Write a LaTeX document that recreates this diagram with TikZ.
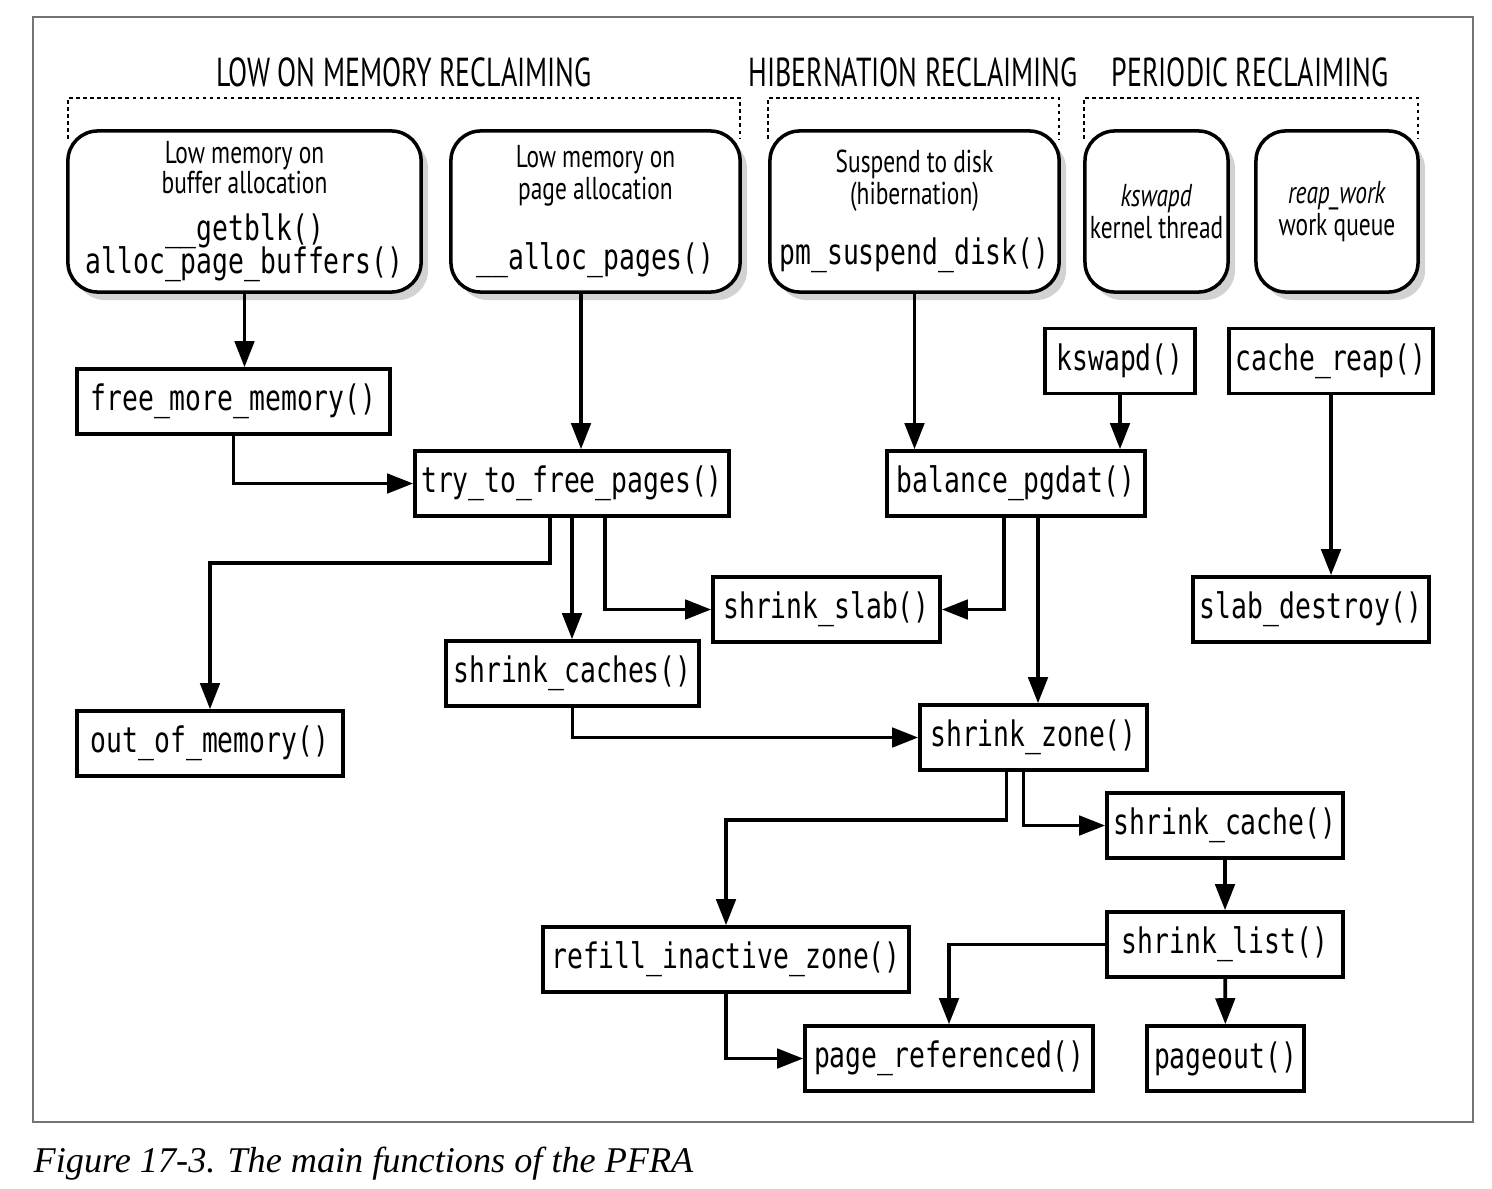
\documentclass[tikz,border=0pt]{standalone}
\usepackage{fontspec}
\newfontfamily\condsans[FakeStretch=0.74]{PT Sans}
\newfontfamily\headfont[FakeStretch=0.69]{PT Sans}
\newfontfamily\codefont[FakeStretch=0.75]{DejaVu Sans Mono}
\newfontfamily\capfont{Liberation Serif}
\usetikzlibrary{arrows.meta,positioning,calc,shadows}
\newcommand{\fn}[1]{{\codefont\fontsize{10}{12}\selectfont #1}}

\begin{document}
\begin{tikzpicture}[x=0.01cm, y=-0.01cm,
  fnbox/.style={draw, line width=1pt, inner sep=0pt, minimum height=0.65cm,
                font=\codefont\fontsize{10}{12}\selectfont},
  srcbox/.style={draw, line width=1pt, rounded corners=8.5pt, fill=white,
                 inner sep=0pt, minimum height=1.61cm, align=center,
                 drop shadow={shadow xshift=0.07cm, shadow yshift=-0.08cm, fill=black!35},
                 font=\condsans\fontsize{9}{9.7}\selectfont},
  arr/.style={-{Triangle[length=7.4pt,width=5.5pt]}, line width=1.05pt},
  grp/.style={line width=0.5pt, dash pattern=on 1pt off 1pt},
  head/.style={anchor=base, font=\headfont\fontsize{11.5}{13}\selectfont}
]
\useasboundingbox (0,0) rectangle (1492,1188);
\draw[black!55, line width=0.6pt] (33,17) rectangle (1473,1122);

%% groups
\node[head] (hlow) at (404,87)  {LOW ON MEMORY RECLAIMING};
\node[head] (hhib) at (913,87)  {HIBERNATION RECLAIMING};
\node[head] (hper) at (1250,87) {PERIODIC RECLAIMING};
\draw[grp] (68,139) |- (740,98) -- (740,139);
\draw[grp] (768,139) |- (1059,98) -- (1059,139);
\draw[grp] (1084,139) |- (1418,98) -- (1418,139);

%% sources
\node[srcbox, minimum width=3.53cm] (buf) at (244.5,211.5)
  {Low memory on\\[-1.1pt]buffer allocation\\[3.6pt]\fn{\_\_getblk()}\\[-1.7pt]\fn{alloc\_page\_buffers()}};
\node[srcbox, minimum width=2.89cm] (pg) at (595.5,211.5)
  {Low memory on\\[-0.6pt]page allocation\\[10.2pt]\fn{\_\_alloc\_pages()}};
\node[srcbox, minimum width=2.89cm] (hib) at (914.5,211.5)
  {Suspend to disk\\[-0.6pt](hibernation)\\[7.4pt]\fn{pm\_suspend\_disk()}};
\node[srcbox, minimum width=1.43cm] (ksw) at (1156.5,211.5)
  {\textit{kswapd}\\[-0.6pt]kernel thread};
\node[srcbox, minimum width=1.62cm] (reap) at (1337,211.5)
  {\textit{reap\_work}\\[-0.6pt]work queue};

%% functions
\node[fnbox, minimum width=3.13cm] (fmm) at (233.5,401.5) {free\_more\_memory()};
\node[fnbox, minimum width=3.14cm] (try) at (572,483.5)   {try\_to\_free\_pages()};
\node[fnbox, minimum width=2.58cm] (bal) at (1016,483.5)  {balance\_pgdat()};
\node[fnbox, minimum width=1.50cm] (ksd) at (1120,361)    {kswapd()};
\node[fnbox, minimum width=2.04cm] (crp) at (1331,361)    {cache\_reap()};
\node[fnbox, minimum width=2.27cm] (ssl) at (826.5,609.5) {shrink\_slab()};
\node[fnbox, minimum width=2.36cm] (sld) at (1311,609.5)  {slab\_destroy()};
\node[fnbox, minimum width=2.53cm] (scs) at (572.5,673.5) {shrink\_caches()};
\node[fnbox, minimum width=2.66cm] (oom) at (210,743.5)   {out\_of\_memory()};
\node[fnbox, minimum width=2.27cm] (szn) at (1033.5,737.5){shrink\_zone()};
\node[fnbox, minimum width=2.36cm] (sce) at (1225,825.5)  {shrink\_cache()};
\node[fnbox, minimum width=2.36cm] (sli) at (1225,944.5)  {shrink\_list()};
\node[fnbox, minimum width=3.66cm] (rfz) at (726,959.5)   {refill\_inactive\_zone()};
\node[fnbox, minimum width=2.88cm] (prf) at (949,1058.5)  {page\_referenced()};
\node[fnbox, minimum width=1.57cm] (pgo) at (1225.5,1058.5){pageout()};

%% calls
\draw[arr] (buf.south) -- (buf.south |- fmm.north);
\draw[arr] ([xshift=0.09cm]try.north |- pg.south) -- ([xshift=0.09cm]try.north);
\draw[arr] (fmm.south) |- (try.west);
\draw[arr] (hib.south) -- (hib.south |- bal.north);
\draw[arr] (ksd.south) -- (ksd.south |- bal.north);
\draw[arr] (crp.south) -- (crp.south |- sld.north);
\draw[arr] ([xshift=-0.22cm]try.south) -- ++(0,45) -| (oom.north);
\draw[arr] (try.south) -- (try.south |- scs.north);
\draw[arr] ([xshift=0.33cm]try.south) |- (ssl.west);
\draw[arr] ([xshift=-0.12cm]bal.south) |- (ssl.east);
\draw[arr] ([xshift=0.22cm]bal.south) -- ([xshift=0.22cm]bal.south |- szn.north);
\draw[arr] (scs.south) |- (szn.west);
\draw[arr] ([xshift=-0.27cm]szn.south) -- ++(0,48) -| (rfz.north);
\draw[arr] ([xshift=-0.10cm]szn.south) |- (sce.west);
\draw[arr] (sce) -- (sli);
\draw[arr] (sli.west) -| (prf.north);
\draw[arr] (sli) -- (pgo);
\draw[arr] (rfz.south) |- (prf.west);

\node[anchor=base west, inner sep=0pt, font=\capfont\itshape\fontsize{10.3}{12}\selectfont] (cap) at (33,1172)
  {Figure 17-3. The main functions of the PFRA};
\end{tikzpicture}
\end{document}
